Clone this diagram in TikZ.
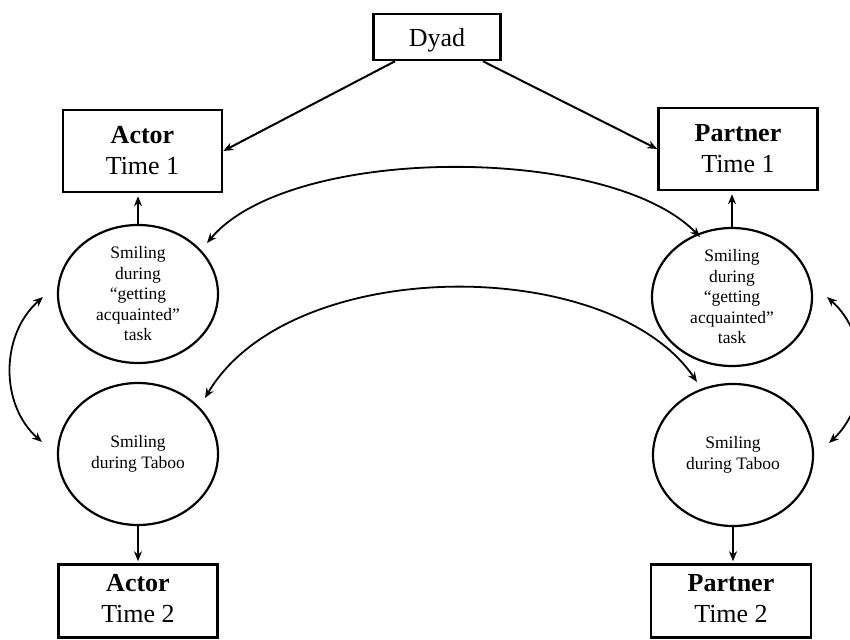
\documentclass[tikz,border=0pt]{standalone}
\usepackage{fontspec}
\setmainfont{Liberation Serif}
\usetikzlibrary{arrows.meta,shapes.geometric,calc}
\begin{document}
\begin{tikzpicture}[x=1pt,y=-1pt,
 box/.style={draw,line width=2.5pt,inner sep=0pt,align=center,font=\fontsize{26}{31}\selectfont},
 oval/.style={draw,ellipse,line width=2.2pt,inner sep=0pt,minimum width=160pt,minimum height=138pt,align=center,font=\fontsize{17.5}{20.5}\selectfont},
 arr/.style={line width=2pt,-{Stealth[length=10pt,width=8pt]}},
 dbl/.style={line width=1.8pt,{Stealth[length=10pt,width=8pt]}-{Stealth[length=10pt,width=8pt]}}]
\clip (0,0) rectangle (850,639);
\fill[white] (0,0) rectangle (850,639);
% boxes
\node[box,minimum width=127pt,minimum height=46pt,text depth=0pt] (dyad) at (437,37) {Dyad};
\node[box,minimum width=159pt,minimum height=82pt] (a1) at (142.5,151) {\textbf{Actor}\\Time 1};
\node[box,minimum width=159pt,minimum height=82pt] (p1) at (738,149) {\textbf{Partner}\\Time 1};
\node[box,minimum width=159pt,minimum height=73pt] (a2) at (138,601) {\raisebox{3pt}{\begin{tabular}{@{}c@{}}\textbf{Actor}\\Time 2\end{tabular}}};
\node[box,minimum width=160pt,minimum height=73pt] (p2) at (731,601) {\raisebox{3pt}{\begin{tabular}{@{}c@{}}\textbf{Partner}\\Time 2\end{tabular}}};
% ellipses
\node[oval] (lt) at (138,294) {Smiling\\during\\“getting\\acquainted”\\task};
\node[oval,minimum height=142pt] (lb) at (138,454) {Smiling\\during Taboo};
\node[oval] (rt) at (732,297) {Smiling\\during\\“getting\\acquainted”\\task};
\node[oval,minimum height=142pt] (rb) at (733,455) {Smiling\\during Taboo};
% dyad arrows
\draw[arr] ($(dyad.south)+(-42,0)$) -- (a1.east);
\draw[arr] ($(dyad.south)+(46,0)$) -- (p1.west);
% vertical arrows
\draw[arr,shorten >=3pt] (lt.north) -- (lt.north |- a1.south);
\draw[arr,shorten >=3pt] (rt.north) -- (rt.north |- p1.south);
\draw[arr,shorten >=2pt] (lb.south) -- (lb.south |- a2.north);
\draw[arr,shorten >=2pt] (rb.south) -- (rb.south |- p2.north);
% big arcs
\coordinate (u1) at (207,243);
\coordinate (u2) at (700,237);
\coordinate (w1) at (205,398);
\coordinate (w2) at (697,382);
\draw[dbl] (u1) .. controls (290,144) and (610,144) .. (u2);
\draw[dbl] (w1) .. controls (290,254) and (610,254) .. (w2);
% side arcs
\coordinate (la1) at (43,297);
\coordinate (la2) at (42,442);
\coordinate (ra1) at (827,297);
\coordinate (ra2) at (829,443);
\draw[dbl] (la1) .. controls (0,335) and (0,405) .. (la2);
\draw[dbl] (ra1) .. controls (870,335) and (870,405) .. (ra2);
\end{tikzpicture}
\end{document}
